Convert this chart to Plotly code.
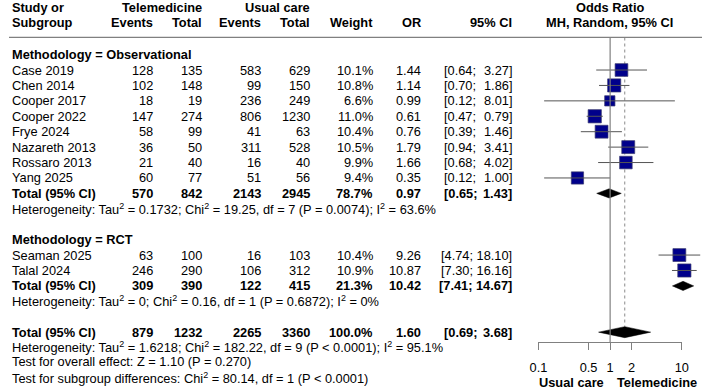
import math
import plotly.graph_objects as go

# ---------------- data ----------------
obs_studies = ["Case 2019", "Chen 2014", "Cooper 2017", "Cooper 2022",
               "Frye 2024", "Nazareth 2013", "Rossaro 2013", "Yang 2025"]
obs_tele_events = [128, 102, 18, 147, 58, 36, 21, 60]
obs_tele_total = [135, 148, 19, 274, 99, 50, 40, 77]
obs_uc_events = [583, 99, 236, 806, 41, 311, 16, 51]
obs_uc_total = [629, 150, 249, 1230, 63, 528, 40, 56]
obs_weight = [10.1, 10.8, 6.6, 11.0, 10.4, 10.5, 9.9, 9.4]
obs_or = [1.44, 1.14, 0.99, 0.61, 0.76, 1.79, 1.66, 0.35]
obs_lo = [0.64, 0.70, 0.12, 0.47, 0.39, 0.94, 0.68, 0.12]
obs_hi = [3.27, 1.86, 8.01, 0.79, 1.46, 3.41, 4.02, 1.00]

rct_studies = ["Seaman 2025", "Talal 2024"]
rct_tele_events = [63, 246]
rct_tele_total = [100, 290]
rct_uc_events = [16, 106]
rct_uc_total = [103, 312]
rct_weight = [10.4, 10.9]
rct_or = [9.26, 10.87]
rct_lo = [4.74, 7.30]
rct_hi = [18.10, 16.16]

# subgroup totals: [events_t, total_t, events_c, total_c, weight, OR, lo, hi]
obs_total = [570, 842, 2143, 2945, 78.7, 0.97, 0.65, 1.43]
rct_total = [309, 390, 122, 415, 21.3, 10.42, 7.41, 14.67]
all_total = [879, 1232, 2265, 3360, 100.0, 1.60, 0.69, 3.68]

obs_het = "Heterogeneity: Tau<sup>2</sup> = 0.1732; Chi<sup>2</sup> = 19.25, df = 7 (P = 0.0074); I<sup>2</sup> = 63.6%"
rct_het = "Heterogeneity: Tau<sup>2</sup> = 0; Chi<sup>2</sup> = 0.16, df = 1 (P = 0.6872); I<sup>2</sup> = 0%"
all_het = "Heterogeneity: Tau<sup>2</sup> = 1.6218; Chi<sup>2</sup> = 182.22, df = 9 (P &lt; 0.0001); I<sup>2</sup> = 95.1%"
overall_test = "Test for overall effect: Z = 1.10 (P = 0.270)"
subgroup_test = "Test for subgroup differences: Chi<sup>2</sup> = 80.14, df = 1 (P &lt; 0.0001)"

tick_vals = [0.1, 0.5, 1, 2, 10]
tick_text = ["0.1", "0.5", "1", "2", "10"]

# ---------------- layout constants ----------------
W, H = 709, 391
FONT = "Liberation Sans, Arial, sans-serif"
FS = 12.8
X01, X10 = 541.7, 688.3            # pixel positions of 0.1 and 10
PPD = (X10 - X01) / 2.0            # pixels per decade
AXIS_Y = 342.3                      # pixel y of the x axis line
Y0, DY = 54.6, 15.42               # first row and row spacing


def rowy(k):
    return Y0 + DY * k


def xp(px):
    return px / W


def yp(py):
    return 1 - py / H


ann = []


def txt(px, py, s, anchor="left", bold=False):
    ann.append(dict(x=xp(px), y=yp(py), xref="paper", yref="paper",
                    text=("<b>%s</b>" % s) if bold else s, showarrow=False,
                    xanchor=anchor, yanchor="middle", borderpad=0,
                    font=dict(family=FONT, size=FS, color="black")))


# column edges
C_TE, C_TT, C_UE, C_UT, C_W, C_OR, C_CIL, C_CIR = 148.5, 198.5, 258.5, 308.5, 373, 423, 444.5, 516

# header
txt(2.5, 7.5, "Study or", bold=True)
txt(2.5, 22.5, "Subgroup", bold=True)
txt(C_TT, 7.5, "Telemedicine", "right", True)
txt(C_UT, 7.5, "Usual care", "right", True)
txt(C_TE, 22.5, "Events", "right", True)
txt(C_TT, 22.5, "Total", "right", True)
txt(C_UE, 22.5, "Events", "right", True)
txt(C_UT, 22.5, "Total", "right", True)
txt(C_W, 22.5, "Weight", "right", True)
txt(C_OR, 22.5, "OR", "right", True)
txt(C_CIR, 22.5, "95% CI", "right", True)
txt(614.5, 7.5, "Odds Ratio", "center", True)
txt(614.5, 22.5, "MH, Random, 95% CI", "center", True)


def data_row(py, name, te, tt, ue, ut, w, o, lo, hi, bold=False):
    txt(2.5, py, name, bold=bold)
    txt(C_TE, py, str(te), "right", bold)
    txt(C_TT, py, str(tt), "right", bold)
    txt(C_UE, py, str(ue), "right", bold)
    txt(C_UT, py, str(ut), "right", bold)
    txt(C_W, py, "%.1f%%" % w, "right", bold)
    txt(C_OR, py, "%.2f" % o, "right", bold)
    if hi >= 10:
        txt(C_CIR, py, "[%.2f; %.2f]" % (lo, hi), "right", bold)
    else:
        txt(C_CIL, py, "[%.2f;" % lo, "left", bold)
        txt(C_CIR, py, "%.2f]" % hi, "right", bold)


sq_x, sq_y, sq_s = [], [], []
ci_x, ci_y = [], []
dia = []

# observational
txt(2.5, rowy(0), "Methodology = Observational", bold=True)
for i, n in enumerate(obs_studies):
    y = rowy(1 + i)
    data_row(y, n, obs_tele_events[i], obs_tele_total[i], obs_uc_events[i],
             obs_uc_total[i], obs_weight[i], obs_or[i], obs_lo[i], obs_hi[i])
    sq_x.append(obs_or[i]); sq_y.append(y); sq_s.append(4.0 * math.sqrt(obs_weight[i]))
    ci_x += [obs_lo[i], obs_hi[i], None]; ci_y += [y, y, None]
yt = rowy(9)
data_row(yt, "Total (95% CI)", *obs_total, bold=True)
dia.append((obs_total[5], obs_total[6], obs_total[7], yt, 4.6))
txt(2.5, rowy(10), obs_het)

# RCT
txt(2.5, rowy(12), "Methodology = RCT", bold=True)
for i, n in enumerate(rct_studies):
    y = rowy(13 + i)
    data_row(y, n, rct_tele_events[i], rct_tele_total[i], rct_uc_events[i],
             rct_uc_total[i], rct_weight[i], rct_or[i], rct_lo[i], rct_hi[i])
    sq_x.append(rct_or[i]); sq_y.append(y); sq_s.append(4.0 * math.sqrt(rct_weight[i]))
    ci_x += [rct_lo[i], rct_hi[i], None]; ci_y += [y, y, None]
yt = rowy(15)
data_row(yt, "Total (95% CI)", *rct_total, bold=True)
dia.append((rct_total[5], rct_total[6], rct_total[7], yt, 4.6))
txt(2.5, rowy(16), rct_het)

# overall
yo = rowy(18)
data_row(yo, "Total (95% CI)", *all_total, bold=True)
dia.append((all_total[5], all_total[6], all_total[7], yo, 5.5))
txt(2.5, 347.0, all_het)
txt(2.5, 361.5, overall_test)
txt(2.5, 377.5, subgroup_test)

# axis labels under the forest
txt(609.5, 382.7, "Usual care", "right", True)
txt(621.5, 382.7, "Telemedicine", "left", True)

fig = go.Figure()

# dotted line at pooled overall OR
fig.add_trace(go.Scatter(x=[all_total[5], all_total[5]], y=[37.5, yo - 5.5],
                         mode="lines", line=dict(color="#8a8a8a", width=1, dash="dot"),
                         hoverinfo="skip", showlegend=False))
# reference line OR = 1 (on the tick axis)
fig.add_trace(go.Scatter(x=[1, 1], y=[37.5, AXIS_Y], xaxis="x2", yaxis="y",
                         mode="lines", line=dict(color="#808080", width=1.2),
                         hoverinfo="skip", showlegend=False))
# squares
fig.add_trace(go.Scatter(x=sq_x, y=sq_y, mode="markers",
                         marker=dict(symbol="square", size=sq_s, color="#00008B", opacity=1,
                                     line=dict(color="#3c3c70", width=0.7)),
                         hoverinfo="skip", showlegend=False))
# CI lines
fig.add_trace(go.Scatter(x=ci_x, y=ci_y, mode="lines",
                         line=dict(color="#555555", width=1),
                         hoverinfo="skip", showlegend=False))
# diamonds
for o, lo, hi, y, h in dia:
    fig.add_trace(go.Scatter(x=[lo, o, hi, o, lo], y=[y, y - h, y, y + h, y],
                             mode="lines", fill="toself", fillcolor="black",
                             line=dict(color="black", width=0.5),
                             hoverinfo="skip", showlegend=False))

fig.update_layout(
    width=W, height=H, margin=dict(l=0, r=0, t=0, b=0),
    paper_bgcolor="white", plot_bgcolor="rgba(0,0,0,0)",
    font=dict(family=FONT, size=FS, color="black"),
    annotations=ann,
    shapes=[dict(type="line", xref="paper", yref="paper", x0=0, x1=1,
                 y0=yp(37.3), y1=yp(37.3), line=dict(color="#808080", width=1.2))],
    xaxis=dict(type="log", range=[-1 - X01 / PPD, 1 + (W - X10) / PPD],
               domain=[0, 1], visible=False, fixedrange=True),
    xaxis2=dict(type="log", range=[-1, 1], domain=[xp(X01), xp(X10)], anchor="y",
                showline=True, linecolor="#808080", linewidth=1.2,
                ticks="outside", ticklen=7, tickwidth=1.2, tickcolor="#808080",
                tickvals=tick_vals, ticktext=tick_text, showgrid=False, zeroline=False,
                tickfont=dict(family=FONT, size=FS, color="black"), ticklabelstandoff=6),
    yaxis=dict(range=[AXIS_Y, 0], domain=[1 - AXIS_Y / H, 1], visible=False,
               anchor="x", fixedrange=True),
)

fig.write_html("out.html")
